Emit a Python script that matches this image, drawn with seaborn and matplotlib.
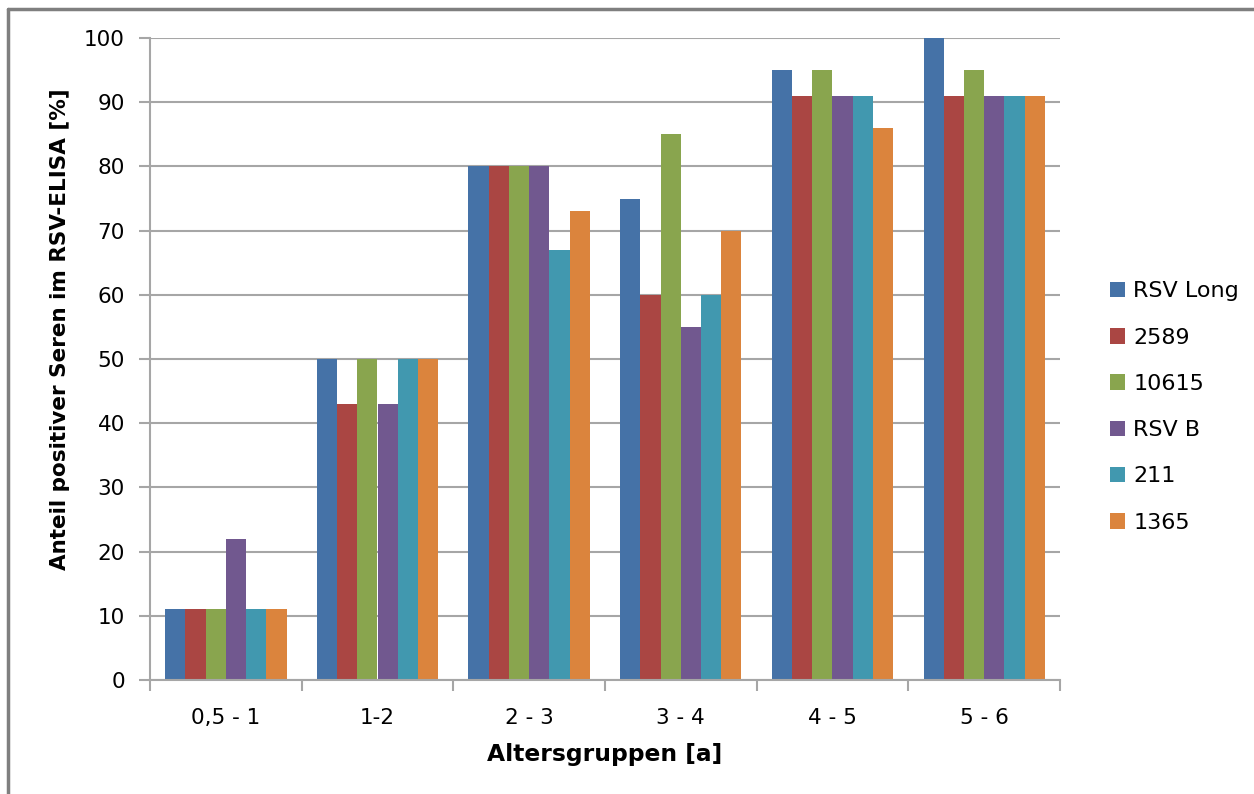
import matplotlib
matplotlib.use("Agg")
import matplotlib.pyplot as plt
import seaborn as sns
import pandas as pd
from matplotlib.patches import Patch
from matplotlib.lines import Line2D

categories = ["0,5 - 1", "1-2", "2 - 3", "3 - 4", "4 - 5", "5 - 6"]
series = ["RSV Long", "2589", "10615", "RSV B", "211", "1365"]
rsv_long = [11, 50, 80, 75, 95, 100]
s2589 = [11, 43, 80, 60, 91, 91]
s10615 = [11, 50, 80, 85, 95, 95]
rsv_b = [22, 43, 80, 55, 91, 91]
s211 = [11, 50, 67, 60, 91, 91]
s1365 = [11, 50, 73, 70, 86, 91]
colors = ["#4572A7", "#AA4643", "#89A54E", "#71588F", "#4198AF", "#DB843D"]

values = [rsv_long, s2589, s10615, rsv_b, s211, s1365]
rows = []
for name, vals in zip(series, values):
    for cat, v in zip(categories, vals):
        rows.append({"Altersgruppe": cat, "Serie": name, "Wert": v})
df = pd.DataFrame(rows)

sns.set_theme(style="white")
plt.rcParams["font.family"] = ["DejaVu Sans"]
plt.rcParams["text.color"] = "black"
plt.rcParams["axes.labelcolor"] = "black"

grid_c = "#A6A6A6"

fig = plt.figure(figsize=(12.54, 7.94), dpi=100)
ax = fig.add_axes([150/1254, 1-680/794, 910/1254, 642/794])

sns.barplot(data=df, x="Altersgruppe", y="Wert", hue="Serie", order=categories,
            hue_order=series, palette=colors, width=0.8, saturation=1,
            ax=ax, legend=False, linewidth=0)

ax.set_xlim(-0.5, 5.5)
ax.set_ylim(0, 100)
ax.set_yticks(range(0, 101, 10))
ax.yaxis.grid(True, color=grid_c, linewidth=1.5)
ax.set_axisbelow(True)
for s in ["top", "right"]:
    ax.spines[s].set_visible(False)
for s in ["left", "bottom"]:
    ax.spines[s].set_color(grid_c)
    ax.spines[s].set_linewidth(1.5)

ax.tick_params(axis="y", which="major", left=True, length=8, width=1.5,
               color=grid_c, labelsize=15.5, pad=10, labelcolor="black")
ax.set_xticks(range(len(categories)))
ax.set_xticklabels(categories)
ax.set_xticks([i - 0.5 for i in range(len(categories) + 1)], minor=True)
ax.tick_params(axis="x", which="major", bottom=False, length=0, labelsize=15.5,
               pad=20, labelcolor="black")
ax.tick_params(axis="x", which="minor", bottom=True, length=8, width=1.5,
               color=grid_c)

ax.set_xlabel("Altersgruppen [a]", fontsize=16.8, fontweight="bold", labelpad=11,
              color="black")
ax.set_ylabel("Anteil positiver Seren im RSV-ELISA [%]", fontsize=15.5,
              fontweight="bold", color="black", va="center")
ax.yaxis.set_label_coords(-0.099, 0.547)

handles = [Patch(facecolor=c, edgecolor="none", label=n) for c, n in zip(colors, series)]
fig.legend(handles=handles, loc="center left", bbox_to_anchor=(1101/1254, 1-407/794),
           frameon=False, fontsize=16, handlelength=0.7, handleheight=0.7,
           handletextpad=0.35, labelspacing=1.18, borderaxespad=0, labelcolor="black")

fig.add_artist(Line2D([8/1254, 8/1254], [0, 1-9/794], color="#7F7F7F", linewidth=2.5,
                      transform=fig.transFigure))
fig.add_artist(Line2D([8/1254, 1], [1-9/794, 1-9/794], color="#7F7F7F", linewidth=2.5,
                      transform=fig.transFigure))

fig.savefig("out.png", dpi=100)
